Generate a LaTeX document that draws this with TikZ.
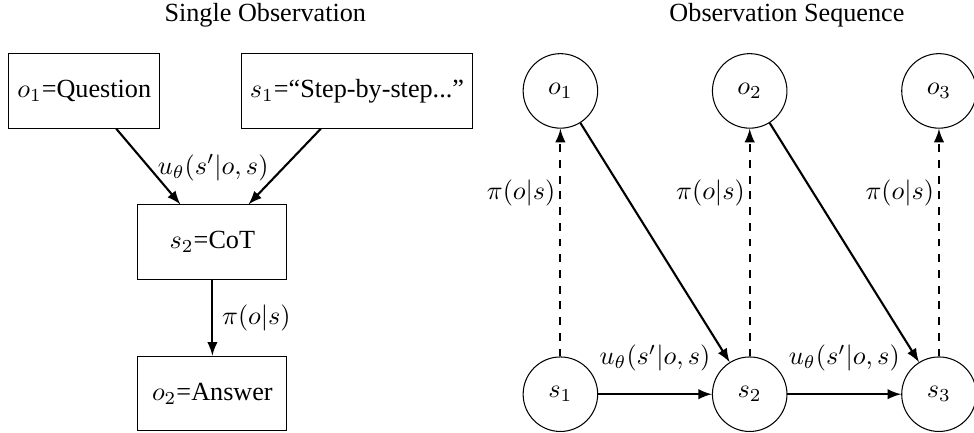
\documentclass[tikz,border=0pt]{standalone}
\usepackage[no-math]{fontspec}
\setmainfont{Liberation Serif}
\begin{document}
\begin{tikzpicture}[box/.style={draw,minimum width=2cm,minimum height=1cm},
  state/.style={draw,circle,minimum size=1cm},
  arr/.style={thick,-latex}]
%\draw [help lines] (0,-6) grid (13,0);
\useasboundingbox (0,0) rectangle (13.07,-5.81);
\node (t1) at (3.56,-0.2) {Single Observation};
\node (t2) at (10.56,-0.2) {Observation Sequence};
\node [box] (q) at (1.13,-1.22) {$o_1$=Question};
\node [box] (st) at (4.79,-1.22) {$s_1$=``Step-by-step...''};
\node [box] (cot) at (2.85,-3.25) {$s_2$=CoT};
\node [box] (ans) at (2.85,-5.28) {$o_2$=Answer};
\node (u) at (2.86,-2.25) {$u_\theta(s'|o,s)$};
\draw [arr] (q) -- (cot);
\draw [arr] (st) -- (cot);
\draw [arr] (cot) -- node [right] {$\pi(o|s)$} (ans);
\node [state] (o1) at (7.52,-1.22) {$o_1$};
\node [state] (o2) at (10.06,-1.22) {$o_2$};
\node [state] (o3) at (12.6,-1.22) {$o_3$};
\node [state] (s1) at (7.52,-5.29) {$s_1$};
\node [state] (s2) at (10.06,-5.29) {$s_2$};
\node [state] (s3) at (12.6,-5.29) {$s_3$};
\draw [arr,dashed] (s1) -- node [pos=0.72,left,inner sep=1.5pt] {$\pi(o|s)$} (o1);
\draw [arr,dashed] (s2) -- node [pos=0.72,left,inner sep=1.5pt] {$\pi(o|s)$} (o2);
\draw [arr,dashed] (s3) -- node [pos=0.72,left,inner sep=1.5pt] {$\pi(o|s)$} (o3);
\draw [arr] (o1) -- (s2);
\draw [arr] (o2) -- (s3);
\draw [arr] (s1) -- node [above=5pt] {$u_\theta(s'|o,s)$} (s2);
\draw [arr] (s2) -- node [above=5pt] {$u_\theta(s'|o,s)$} (s3);
\end{tikzpicture}
\end{document}
